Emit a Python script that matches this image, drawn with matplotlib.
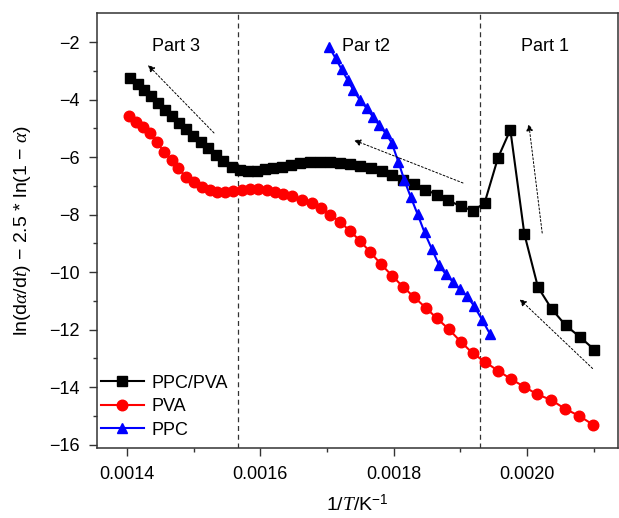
import matplotlib
matplotlib.use("Agg")
import matplotlib.pyplot as plt

plt.rcParams['font.family'] = ['Liberation Sans', 'DejaVu Sans']
plt.rcParams['mathtext.fontset'] = 'custom'
plt.rcParams['mathtext.rm'] = 'Liberation Sans'
plt.rcParams['mathtext.it'] = 'Liberation Serif:italic'

# PPC/PVA blend
blend_x = [0.0014045, 0.001416, 0.001426, 0.001436, 0.001446, 0.001457, 0.001467, 0.001478,
           0.001488, 0.0014995, 0.001511, 0.001522, 0.001533, 0.0015445, 0.001557, 0.0015695,
           0.001582, 0.0015945, 0.001607, 0.0016195, 0.001632, 0.0016455, 0.0016595, 0.0016745,
           0.0016895, 0.0017045, 0.0017195, 0.0017345, 0.00175, 0.001766, 0.0017818, 0.0017975,
           0.001814, 0.0018305, 0.001847, 0.0018646, 0.001882, 0.0019003, 0.001919,
           0.0019363, 0.0019564, 0.001975, 0.001996, 0.0020164, 0.002037, 0.002058,
           0.0020792, 0.0021008]
blend_y = [-3.26, -3.46, -3.67, -3.89, -4.12, -4.35, -4.57, -4.80,
           -5.02, -5.25, -5.48, -5.70, -5.93, -6.14, -6.33, -6.45,
           -6.48, -6.47, -6.43, -6.38, -6.33, -6.26, -6.21, -6.17,
           -6.16, -6.17, -6.20, -6.24, -6.31, -6.39, -6.48, -6.62,
           -6.78, -6.94, -7.13, -7.30, -7.50, -7.71, -7.86,
           -7.60, -6.03, -5.05, -8.67, -10.52, -11.28, -11.85,
           -12.25, -12.69]

# PVA
pva_x = [0.001403, 0.001413, 0.0014245, 0.0014345, 0.0014446, 0.001456, 0.001467, 0.001477,
         0.001488, 0.0015005, 0.001513, 0.0015245, 0.0015355, 0.001547, 0.0015595, 0.001572,
         0.0015845, 0.001597, 0.0016096, 0.001622, 0.0016345, 0.001647, 0.001662, 0.001677,
         0.001691, 0.001705, 0.00172, 0.001735, 0.00175, 0.001765, 0.001781, 0.0017978,
         0.0018145, 0.0018308, 0.0018478, 0.0018646, 0.0018826, 0.0019007, 0.0019186,
         0.001937, 0.0019561, 0.0019756, 0.0019955, 0.0020155, 0.002036, 0.002057,
         0.0020785, 0.0020995]
pva_y = [-4.57, -4.77, -4.94, -5.17, -5.49, -5.83, -6.10, -6.39,
         -6.68, -6.88, -7.03, -7.14, -7.20, -7.20, -7.18, -7.14,
         -7.12, -7.11, -7.14, -7.20, -7.28, -7.34, -7.48, -7.61,
         -7.78, -8.00, -8.26, -8.58, -8.92, -9.31, -9.72, -10.13,
         -10.52, -10.87, -11.23, -11.60, -11.98, -12.42, -12.82,
         -13.12, -13.42, -13.71, -13.98, -14.25, -14.44, -14.75,
         -15.00, -15.31]

# PPC
ppc_x = [0.001703, 0.001713, 0.001722, 0.001731, 0.0017395, 0.0017495, 0.0017596, 0.0017695,
         0.001778, 0.001788, 0.001797, 0.001807, 0.001816, 0.0018253, 0.0018358, 0.0018463,
         0.0018575, 0.001868, 0.001878, 0.0018886, 0.0018988, 0.00191, 0.001921, 0.0019325,
         0.0019445]
ppc_y = [-2.16, -2.57, -2.95, -3.32, -3.67, -4.02, -4.30, -4.62,
         -4.88, -5.17, -5.50, -6.16, -6.80, -7.37, -7.98, -8.62,
         -9.21, -9.75, -10.07, -10.33, -10.59, -10.83, -11.19, -11.65,
         -12.15]

boundaries = [0.001566, 0.00193]
part_labels = ['Part 3', 'Par t2', 'Part 1']
part_x = [0.0014735, 0.0017585, 0.002027]

# arrows: (tail x, tail y, head x, head y)
arrows = [(0.0015305, -5.16, 0.0014315, -2.80),
          (0.001904, -6.90, 0.0017405, -5.41),
          (0.0020228, -8.64, 0.0020027, -4.85),
          (0.0020984, -13.35, 0.001989, -10.94)]

fig = plt.figure(figsize=(6.19, 5.18), dpi=100)
ax = fig.add_axes([0.1567, 0.1342, 0.8417, 0.8407])

ax.plot(blend_x, blend_y, color='black', marker='s', markersize=7, lw=1.5, label='PPC/PVA')
ax.plot(pva_x, pva_y, color='red', marker='o', markersize=7.6, lw=1.5, label='PVA')
ax.plot(ppc_x, ppc_y, color='blue', marker='^', markersize=7.6, lw=1.5, label='PPC')

for b in boundaries:
    ax.axvline(b, color='#333333', lw=0.9, ls=(0, (4, 3)), zorder=0)

for lab, px in zip(part_labels, part_x):
    ax.text(px, -2.15, lab, ha='center', va='center', fontsize=13)

for tx, ty, hx, hy in arrows:
    ax.annotate('', xy=(hx, hy), xytext=(tx, ty),
                arrowprops=dict(arrowstyle='-|>', color='black', lw=0.7,
                                linestyle=(0, (2, 2)), shrinkA=0, shrinkB=0,
                                mutation_scale=10))

ax.set_xlim(0.001355, 0.0021365)
ax.set_ylim(-16.13, -0.99)
ax.set_xticks([0.0014, 0.0016, 0.0018, 0.0020])
ax.set_xticklabels(['0.0014', '0.0016', '0.0018', '0.0020'])
ax.set_xticks([0.0015, 0.0017, 0.0019, 0.0021], minor=True)
ax.set_yticks([-2, -4, -6, -8, -10, -12, -14, -16])
ax.set_yticklabels(['\u22122', '\u22124', '\u22126', '\u22128', '\u221210', '\u221212', '\u221214', '\u221216'])
ax.set_yticks([-3, -5, -7, -9, -11, -13, -15], minor=True)
ax.tick_params(which='both', direction='out', labelsize=13, width=1, color='#333333')
ax.tick_params(which='major', length=5.8, pad=6.5)
ax.tick_params(which='minor', length=3.2)
for s in ax.spines.values():
    s.set_linewidth(1.1)
    s.set_color('#333333')

ax.set_xlabel('1/$T$/K$^{\u22121}$', fontsize=14, labelpad=8)
ax.set_ylabel('ln(d$\\alpha$/d$t$) \u2212 2.5 * ln(1 \u2212 $\\alpha$)', fontsize=14, labelpad=12)

ax.legend(loc='upper left', bbox_to_anchor=(0.0, 0.178), frameon=False, fontsize=13,
          handlelength=2.4, handletextpad=0.4, labelspacing=0.36, borderaxespad=0, borderpad=0.2)

fig.savefig('out.png', dpi=100)
